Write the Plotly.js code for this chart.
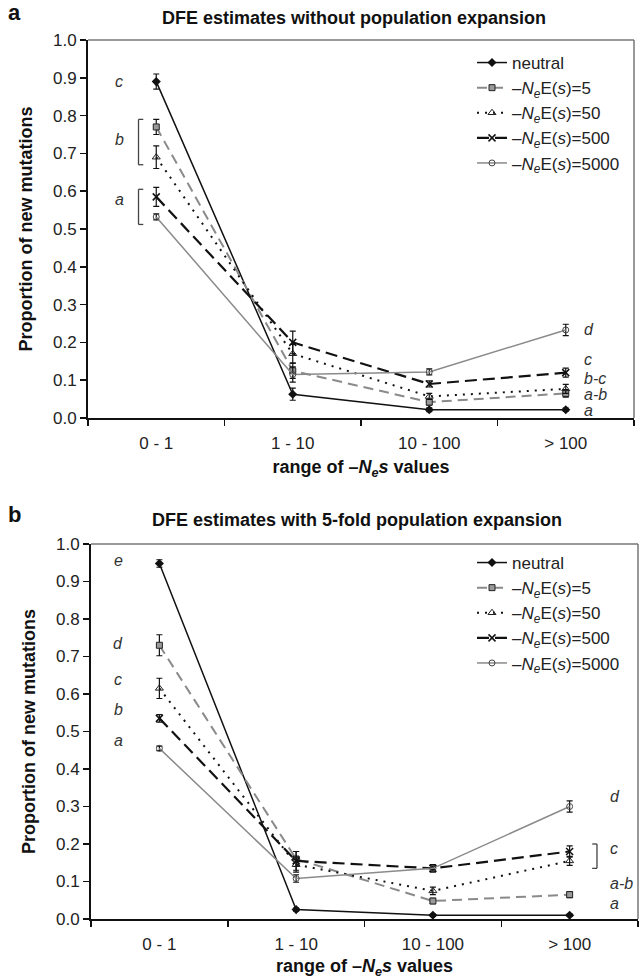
<!DOCTYPE html>
<html>
<head>
<meta charset="utf-8">
<script src="https://cdn.plot.ly/plotly-3.0.1.min.js"></script>
<style>
  html, body { margin: 0; padding: 0; background: #fff; }
  #chart { width: 644px; height: 979px; }
</style>
</head>
<body>
<div id="chart"></div>
<script>
// Range classes of -Ne*s
const categories = ['0 - 1', '1 - 10', '10 - 100', '> 100'];

const seriesNames = [
  'neutral',
  '–<i>N<sub>e</sub></i>E(<i>s</i>)=5',
  '–<i>N<sub>e</sub></i>E(<i>s</i>)=50',
  '–<i>N<sub>e</sub></i>E(<i>s</i>)=500',
  '–<i>N<sub>e</sub></i>E(<i>s</i>)=5000'
];

// Panel a: no population expansion (mean proportion, and error)
const neutralA   = [0.890, 0.063, 0.022, 0.022];
const neutralAErr= [0.020, 0.016, 0.005, 0.004];
const ne5A       = [0.770, 0.125, 0.042, 0.065];
const ne5AErr    = [0.020, 0.020, 0.008, 0.010];
const ne50A      = [0.690, 0.170, 0.057, 0.077];
const ne50AErr   = [0.030, 0.025, 0.008, 0.012];
const ne500A     = [0.585, 0.200, 0.090, 0.120];
const ne500AErr  = [0.025, 0.030, 0.008, 0.012];
const ne5000A    = [0.532, 0.115, 0.122, 0.233];
const ne5000AErr = [0.008, 0.020, 0.008, 0.015];

// Panel b: 5-fold population expansion
const neutralB   = [0.948, 0.025, 0.010, 0.010];
const neutralBErr= [0.010, 0.004, 0.003, 0.003];
const ne5B       = [0.730, 0.160, 0.048, 0.065];
const ne5BErr    = [0.028, 0.020, 0.007, 0.008];
const ne50B      = [0.615, 0.145, 0.075, 0.155];
const ne50BErr   = [0.027, 0.020, 0.010, 0.012];
const ne500B     = [0.535, 0.155, 0.135, 0.180];
const ne500BErr  = [0.010, 0.025, 0.010, 0.015];
const ne5000B    = [0.455, 0.108, 0.135, 0.300];
const ne5000BErr = [0.006, 0.010, 0.008, 0.015];

// Significance group letters (text, y position)
const lettersALeft  = ['c', 'b', 'a'];
const lettersALeftY = [0.89, 0.738, 0.577];
const lettersARight  = ['d', 'c', 'b-c', 'a-b', 'a'];
const lettersARightY = [0.235, 0.155, 0.104, 0.062, 0.020];
const lettersBLeft  = ['e', 'd', 'c', 'b', 'a'];
const lettersBLeftY = [0.955, 0.735, 0.640, 0.558, 0.475];
const lettersBRight  = ['d', 'c', 'a-b', 'a'];
const lettersBRightY = [0.327, 0.188, 0.094, 0.041];

const styles = [
  { line: { color: '#111', width: 1.5, dash: 'solid' },
    marker: { symbol: 'diamond', size: 7, color: '#111' } },
  { line: { color: '#8a8a8a', width: 2, dash: '10px,6px' },
    marker: { symbol: 'square', size: 6, color: '#999', line: { color: '#222', width: 1 } } },
  { line: { color: '#111', width: 2, dash: '2px,6px' },
    marker: { symbol: 'triangle-up-open', size: 7, color: '#222', line: { width: 1 } } },
  { line: { color: '#111', width: 2.2, dash: '12px,6px' },
    marker: { symbol: 'x-thin-open', size: 7, color: '#111', line: { color: '#111', width: 1.5 } } },
  { line: { color: '#8a8a8a', width: 1.5, dash: 'solid' },
    marker: { symbol: 'circle-open', size: 6, color: '#444', line: { width: 1 } } }
];

function makeTraces(vals, errs, xa, ya, legendId) {
  return vals.map((v, i) => ({
    type: 'scatter', mode: 'lines+markers',
    x: categories, y: v, xaxis: xa, yaxis: ya,
    name: seriesNames[i], legend: legendId,
    line: styles[i].line, marker: styles[i].marker,
    error_y: { type: 'data', array: errs[i], visible: true, color: '#111', thickness: 1.2, width: 3 },
    cliponaxis: false
  }));
}

const tracesA = makeTraces(
  [neutralA, ne5A, ne50A, ne500A, ne5000A],
  [neutralAErr, ne5AErr, ne50AErr, ne500AErr, ne5000AErr], 'x', 'y', 'legend');
const tracesB = makeTraces(
  [neutralB, ne5B, ne50B, ne500B, ne5000B],
  [neutralBErr, ne5BErr, ne50BErr, ne500BErr, ne5000BErr], 'x2', 'y2', 'legend2');

const W = 644, H = 979;
const px = v => v / W;
const py = v => (H - v) / H;

function xAxis(left, right, anchor) {
  return {
    domain: [px(left), px(right)], anchor: anchor, type: 'category',
    range: [-0.5, 3.5], tickson: 'boundaries', ticks: 'outside', ticklen: 6,
    tickwidth: 1.5, tickcolor: '#111', showline: true, linecolor: '#111', linewidth: 2,
    showgrid: false, zeroline: false, tickfont: { size: 17, color: '#222' },
    ticklabelstandoff: 9,
    title: { text: '<b>range of –<i>N<sub>e</sub>s</i> values</b>', font: { size: 18, color: '#111' }, standoff: 8 }
  };
}
function yAxis(top, bottom, anchor) {
  return {
    domain: [py(bottom), py(top)], anchor: anchor, range: [0, 1], dtick: 0.1,
    tickformat: '.1f', ticks: 'outside', ticklen: 6, tickwidth: 1.5, tickcolor: '#111',
    showline: true, linecolor: '#111', linewidth: 2, showgrid: false, zeroline: false,
    tickfont: { size: 17, color: '#222' },
    title: { text: '<b>Proportion of new mutations</b>', font: { size: 18, color: '#111' }, standoff: 16 }
  };
}

const annotations = [];
function letters(texts, ys, x, xa, ya, anchor) {
  texts.forEach((t, i) => annotations.push({
    xref: xa, yref: ya, x: x, y: ys[i], text: '<i>' + t + '</i>', showarrow: false,
    xanchor: anchor, yanchor: 'middle', font: { size: 16, color: '#333' }
  }));
}
letters(lettersALeft, lettersALeftY, -0.27, 'x', 'y', 'center');
letters(lettersARight, lettersARightY, 3.12, 'x', 'y', 'left');
letters(lettersBLeft, lettersBLeftY, -0.30, 'x2', 'y2', 'center');
letters(lettersBRight, lettersBRightY, 3.28, 'x2', 'y2', 'left');

// Panel titles and letters
annotations.push(
  { xref: 'paper', yref: 'paper', x: px(354), y: py(18), text: '<b>DFE estimates without population expansion</b>',
    showarrow: false, xanchor: 'center', yanchor: 'middle', font: { size: 18, color: '#111' } },
  { xref: 'paper', yref: 'paper', x: px(357), y: py(520), text: '<b>DFE estimates with 5-fold population expansion</b>',
    showarrow: false, xanchor: 'center', yanchor: 'middle', font: { size: 18, color: '#111' } },
  { xref: 'paper', yref: 'paper', x: px(6), y: py(13), text: '<b>a</b>',
    showarrow: false, xanchor: 'left', yanchor: 'middle', font: { size: 22, color: '#111' } },
  { xref: 'paper', yref: 'paper', x: px(6), y: py(514), text: '<b>b</b>',
    showarrow: false, xanchor: 'left', yanchor: 'middle', font: { size: 22, color: '#111' } }
);

// Brackets that join groups sharing a letter
const shapes = [];
function bracket(groupVals, idx, x, dir, xa, ya) {
  const v = groupVals.map(s => s[idx]);
  const lo = Math.min(...v) - 0.02, hi = Math.max(...v) + 0.02;
  const arm = 0.035 * dir;
  const ln = { color: '#444', width: 1.3 };
  shapes.push(
    { type: 'line', xref: xa, yref: ya, x0: x, x1: x, y0: lo, y1: hi, line: ln },
    { type: 'line', xref: xa, yref: ya, x0: x, x1: x + arm, y0: lo, y1: lo, line: ln },
    { type: 'line', xref: xa, yref: ya, x0: x, x1: x + arm, y0: hi, y1: hi, line: ln }
  );
}
bracket([ne5A, ne50A], 0, -0.13, 1, 'x', 'y');
bracket([ne500A, ne5000A], 0, -0.13, 1, 'x', 'y');
bracket([ne500B, ne50B], 3, 3.2, -1, 'x2', 'y2');

// Light frame on top and right sides of each panel
[['x', 'y'], ['x2', 'y2']].forEach(([xa, ya]) => {
  shapes.push(
    { type: 'line', xref: xa + ' domain', yref: ya + ' domain', x0: 0, x1: 1, y0: 1, y1: 1, line: { color: '#777', width: 1.5 } },
    { type: 'line', xref: xa + ' domain', yref: ya + ' domain', x0: 1, x1: 1, y0: 0, y1: 1, line: { color: '#777', width: 1.5 } }
  );
});

const legendBase = {
  xanchor: 'left', yanchor: 'top', bgcolor: 'rgba(0,0,0,0)', borderwidth: 0,
  font: { size: 17, color: '#222' }, tracegroupgap: 0, itemwidth: 30
};

const layout = {
  width: W, height: H,
  margin: { l: 0, r: 0, t: 0, b: 0 },
  paper_bgcolor: '#fff', plot_bgcolor: '#fff',
  font: { family: 'Liberation Sans, Arial, sans-serif', size: 17, color: '#222' },
  showlegend: true,
  xaxis: xAxis(88, 634, 'y'),
  yaxis: yAxis(40, 418, 'x'),
  xaxis2: xAxis(91, 638, 'y2'),
  yaxis2: yAxis(544, 919, 'x2'),
  legend: Object.assign({ x: px(472), y: py(45) }, legendBase),
  legend2: Object.assign({ x: px(472), y: py(545) }, legendBase),
  annotations: annotations,
  shapes: shapes
};

Plotly.newPlot('chart', tracesA.concat(tracesB), layout, { displayModeBar: false, staticPlot: true });
</script>
</body>
</html>
